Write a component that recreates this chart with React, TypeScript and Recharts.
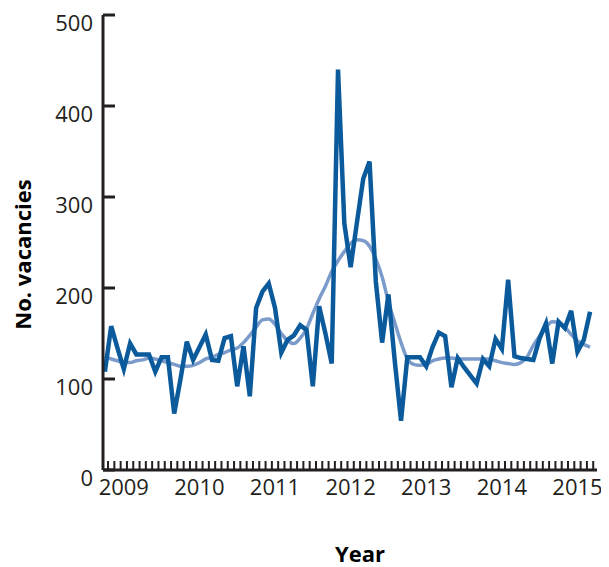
import { LineChart, Line, XAxis, YAxis, Label } from 'recharts';

// monthly series, Oct 2008 .. Mar 2015
const VACANCIES = [
  108, 158, 134, 111, 139, 127, 127, 127, 108, 124, 124, 62,
  100, 141, 121, 135, 149, 121, 120, 145, 147, 92, 136, 81,
  178, 196, 205, 178, 129, 143, 148, 159, 154, 92, 180, 150,
  117, 440, 271, 223, 272, 320, 339, 207, 140, 193, 120, 54,
  124, 124, 124, 114, 135, 151, 147, 91, 123, 113, 104, 95,
  122, 114, 144, 133, 209, 125, 123, 122, 121, 145, 161, 117,
  163, 156, 175, 130, 143, 174,
];

const TREND = [
  125, 122, 120, 118, 118, 120, 121, 123, 122, 120, 118, 116,
  114, 114, 115, 118, 122, 124, 127, 129, 132, 134, 140, 148,
  157, 165, 166, 160, 150, 142, 139, 145, 155, 172, 188, 202,
  218, 230, 240, 249, 253, 252, 246, 232, 212, 185, 162, 140,
  122, 116, 115, 116, 120, 122, 123, 123, 122, 122, 122, 122,
  122, 122, 120, 118, 117, 116, 118, 124, 137, 147, 157, 163,
  162, 157, 149, 142, 138, 135,
];

const YEAR_LABELS = ['2009', '2010', '2011', '2012', '2013', '2014', '2015'];
const YEAR_INDEX = [3, 15, 27, 39, 51, 63, 75];
const Y_TICKS = [0, 100, 200, 300, 400, 500];

const data = VACANCIES.map((v, i) => ({ t: i, v, trend: TREND[i] }));
const monthTicks = VACANCIES.map((_, i) => i + 0.5);
const xTicks = [...monthTicks, ...YEAR_INDEX].sort((a, b) => a - b);

const INK = '#231f20';
const FONT = '"Open Sans", sans-serif';

function XTick(props: any) {
  const { x, y, payload } = props;
  const idx = YEAR_INDEX.indexOf(payload.value);
  if (idx >= 0) {
    return (
      <text x={x} y={y + 25} textAnchor="middle" fontSize={22} fontFamily={FONT} fill={INK}>
        {YEAR_LABELS[idx]}
      </text>
    );
  }
  return <line x1={x} x2={x} y1={y} y2={y - 9} stroke={INK} strokeWidth={2} />;
}

function YTick(props: any) {
  const { x, y, payload } = props;
  return (
    <g>
      <line x1={x} x2={x + 12} y1={y} y2={y} stroke={INK} strokeWidth={3} />
      <text x={x - 10} y={y + 16} textAnchor="end" fontSize={22} fontFamily={FONT} fill={INK}>
        {payload.value}
      </text>
    </g>
  );
}

export default function App() {
  return (
    <LineChart width={601} height={559} data={data} margin={{ top: 7, right: 12, left: 0, bottom: 0 }}>
      <XAxis
        dataKey="t"
        type="number"
        domain={[-0.3, 78.1]}
        ticks={xTicks}
        interval={0}
        tickSize={0}
        tickMargin={0}
        tickLine={false}
        axisLine={{ stroke: INK, strokeWidth: 3 }}
        tick={<XTick />}
        height={97}
      >
        <Label
          content={(p: any) => {
            const vb = p.viewBox;
            return (
              <text
                x={vb.x + vb.width / 2 + 10}
                y={vb.y + vb.height - 14}
                textAnchor="middle"
                dominantBaseline="central"
                fontSize={22}
                fontWeight="bold"
                fontFamily={FONT}
                fill="#000"
              >
                Year
              </text>
            );
          }}
        />
      </XAxis>
      <YAxis
        type="number"
        domain={[0, 500]}
        ticks={Y_TICKS}
        interval={0}
        width={95}
        tickSize={0}
        tickMargin={0}
        tickLine={false}
        axisLine={{ stroke: INK, strokeWidth: 3 }}
        tick={<YTick />}
      >
        <Label
          content={(p: any) => {
            const vb = p.viewBox;
            const cx = vb.x + 14;
            const cy = vb.y + vb.height / 2 + 12;
            return (
              <text
                x={cx}
                y={cy}
                transform={`rotate(-90, ${cx}, ${cy})`}
                textAnchor="middle"
                dominantBaseline="central"
                fontSize={22}
                fontWeight="bold"
                fontFamily={FONT}
                fill="#000"
              >
                No. vacancies
              </text>
            );
          }}
        />
      </YAxis>
      <Line
        type="monotone"
        dataKey="trend"
        stroke="#7b9bcb"
        strokeWidth={3.5}
        dot={false}
        isAnimationActive={false}
      />
      <Line
        type="linear"
        dataKey="v"
        stroke="#0a5a9c"
        strokeWidth={4.5}
        strokeLinejoin="miter"
        dot={false}
        isAnimationActive={false}
      />
    </LineChart>
  );
}
